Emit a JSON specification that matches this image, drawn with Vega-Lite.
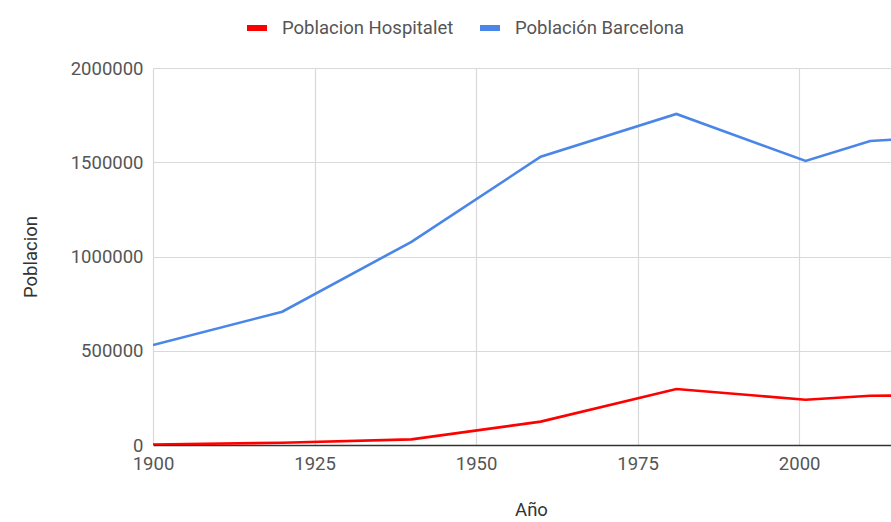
{
  "$schema": "https://vega.github.io/schema/vega-lite/v6.json",
  "autosize": {"type": "none"},
  "padding": {"left": 153, "top": 68, "right": 0, "bottom": 77},
  "width": 756,
  "height": 377,
  "background": "white",
  "config": {
    "font": "Roboto",
    "view": {"stroke": null},
    "axis": {"labelFont": "Roboto", "titleFont": "Roboto", "labelFontSize": 18.5, "titleFontSize": 18.5, "labelColor": "#555555", "titleColor": "#333333", "titleFontWeight": "normal", "gridColor": "#d9d9d9", "gridWidth": 1.2, "ticks": false},
    "legend": {"labelFont": "Roboto", "labelFontSize": 18.5, "labelColor": "#555555", "labelLimit": 400}
  },
  "data": {
    "values": [
      {"year": 1900, "serie": "Poblacion Hospitalet", "value": 3000},
      {"year": 1920, "serie": "Poblacion Hospitalet", "value": 12000},
      {"year": 1940, "serie": "Poblacion Hospitalet", "value": 30000},
      {"year": 1960, "serie": "Poblacion Hospitalet", "value": 124000},
      {"year": 1981, "serie": "Poblacion Hospitalet", "value": 297000},
      {"year": 2001, "serie": "Poblacion Hospitalet", "value": 240000},
      {"year": 2011, "serie": "Poblacion Hospitalet", "value": 261000},
      {"year": 2017, "serie": "Poblacion Hospitalet", "value": 263000},
      {"year": 1900, "serie": "Población Barcelona", "value": 530000},
      {"year": 1920, "serie": "Población Barcelona", "value": 707000},
      {"year": 1940, "serie": "Población Barcelona", "value": 1078000},
      {"year": 1960, "serie": "Población Barcelona", "value": 1529000},
      {"year": 1981, "serie": "Población Barcelona", "value": 1756000},
      {"year": 2001, "serie": "Población Barcelona", "value": 1507000},
      {"year": 2011, "serie": "Población Barcelona", "value": 1613000},
      {"year": 2017, "serie": "Población Barcelona", "value": 1625000}
    ]
  },
  "mark": {"type": "line", "strokeWidth": 2.6, "clip": true},
  "encoding": {
    "x": {
      "field": "year", "type": "quantitative", "title": "Año",
      "scale": {"domain": [1900, 2017], "nice": false, "zero": false},
      "axis": {"values": [1900, 1925, 1950, 1975, 2000], "format": "d", "labelPadding": 9, "titlePadding": 28, "domainColor": "#333333", "domainWidth": 1.5, "labelFlush": false}
    },
    "y": {
      "field": "value", "type": "quantitative", "title": "Poblacion",
      "scale": {"domain": [0, 2000000], "nice": false},
      "axis": {"values": [0, 500000, 1000000, 1500000, 2000000], "format": "d", "labelPadding": 10, "titlePadding": 30, "domain": false}
    },
    "color": {
      "field": "serie", "type": "nominal",
      "scale": {"domain": ["Poblacion Hospitalet", "Población Barcelona"], "range": ["#ff0000", "#4a86e8"]},
      "legend": {"title": null, "orient": "none", "legendX": 91, "legendY": -53, "direction": "horizontal", "symbolType": "stroke", "symbolSize": 400, "symbolStrokeWidth": 6, "labelOffset": 12, "columnPadding": 14}
    }
  }
}
